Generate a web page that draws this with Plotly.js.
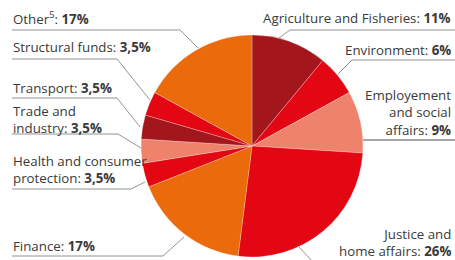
<!DOCTYPE html>
<html>
<head>
<meta charset="utf-8">
<script src="https://cdn.plot.ly/plotly-3.0.1.min.js"></script>
<style>html,body{margin:0;padding:0;background:#fff;}#chart{width:455px;height:260px;}</style>
</head>
<body>
<div id="chart"></div>
<script>
// Data (clockwise from 12 o'clock)
const categories = ["Agriculture and Fisheries", "Environment", "Employement and social affairs", "Justice and home affairs", "Finance", "Health and consumer protection", "Trade and industry", "Transport", "Structural funds", "Other"];
const shares = [11, 6, 9, 26, 17, 3.5, 3.5, 3.5, 3.5, 17];
const labelLinesText = [
  ["Agriculture and Fisheries: "],
  ["Environment: "],
  ["Employement", "and social", "affairs: "],
  ["Justice and", "home affairs: "],
  ["Finance: "],
  ["Health and consumer", "protection: "],
  ["Trade and", "industry: "],
  ["Transport: "],
  ["Structural funds: "],
  ["Other<sup>5</sup>: "]
];

const colors = ["#a3161c", "#e30613", "#ee826b", "#e30613", "#ea6a0c", "#e30613", "#ee826b", "#a3161c", "#e30613", "#ea6a0c"];

// layout geometry (pixels)
const W = 455, H = 260;
const cx = 252, cy = 146, r = 111;
// per label: side, text x, centre y of text block, underline [x0,x1,y], leader end [x,y]
const labelPos = [
  {side: "right", x: 453, y: 18, u: [290, 455, 30], l: [279, 38], lc: "#777"},
  {side: "right", x: 453, y: 112.5, u: [363, 455, 140], l: null, lc: "#222"},
  {side: "right", x: 453, y: 50, u: [352, 455, 60], l: [338, 74], lc: "#777"},
  {side: "right", x: 453, y: 242.5, u: null, l: null, lc: "#777", d: [299, 247, 313, 262]},
  {side: "left", x: 11, y: 246, u: [12, 163, 256], l: [184, 237], lc: "#777"},
  {side: "left", x: 11, y: 169.5, u: [12, 131, 189], l: [145, 182], lc: "#777"},
  {side: "left", x: 11, y: 119.5, u: [12, 118, 134], l: [141, 148], lc: "#777"},
  {side: "left", x: 11, y: 88, u: [12, 117, 98], l: [140, 127], lc: "#777"},
  {side: "left", x: 11, y: 47, u: [12, 117, 59], l: [150, 100], lc: "#777"},
  {side: "left", x: 11, y: 18, u: [12, 180, 30], l: [198, 48], lc: "#777"}
];
// swap back to category order for Environment / Employment positions
const tmp = labelPos[1]; labelPos[1] = labelPos[2]; labelPos[2] = tmp;

const px = x => x / W;
const py = y => 1 - y / H;

const annotations = [];
const shapes = [];
categories.forEach((c, i) => {
  const p = labelPos[i];
  const lines = labelLinesText[i].slice();
  const pct = String(shares[i]).replace(".", ",") + "%";
  lines[lines.length - 1] = lines[lines.length - 1] + "<b>" + pct + "</b>";
  annotations.push({
    xref: "paper", yref: "paper", x: px(p.x), y: py(p.y),
    xanchor: p.side === "left" ? "left" : "right", yanchor: "middle",
    text: lines.join("<br>"), showarrow: false, align: p.side,
    font: {family: "Open Sans, sans-serif", size: 13.3, color: "#3a3a3a"}
  });
  if (p.u) {
    shapes.push({type: "line", xref: "paper", yref: "paper",
      x0: px(p.u[0]), x1: px(p.u[1]), y0: py(p.u[2]), y1: py(p.u[2]),
      line: {color: p.lc, width: 0.8}});
    if (p.l) {
      const sx = p.side === "left" ? p.u[1] : p.u[0];
      shapes.push({type: "line", xref: "paper", yref: "paper",
        x0: px(sx), x1: px(p.l[0]), y0: py(p.u[2]), y1: py(p.l[1]),
        line: {color: p.lc, width: 0.8}});
    }
  }
  if (p.d) {
    shapes.push({type: "line", xref: "paper", yref: "paper",
      x0: px(p.d[0]), x1: px(p.d[2]), y0: py(p.d[1]), y1: py(p.d[3]),
      line: {color: p.lc, width: 0.8}});
  }
});

const trace = {
  type: "pie",
  labels: categories,
  values: shares,
  sort: false,
  direction: "clockwise",
  rotation: 0,
  textinfo: "none",
  hoverinfo: "label+value",
  marker: {colors: colors, line: {color: "rgba(255,255,255,0.5)", width: 0.5}},
  domain: {x: [(cx - r) / W, (cx + r) / W], y: [(H - cy - r) / H, (H - cy + r) / H]},
  showlegend: false
};

Plotly.newPlot("chart", [trace], {
  width: W, height: H,
  margin: {l: 0, r: 0, t: 0, b: 0},
  paper_bgcolor: "#fff",
  showlegend: false,
  annotations: annotations,
  shapes: shapes
}, {staticPlot: true});
</script>
</body>
</html>
